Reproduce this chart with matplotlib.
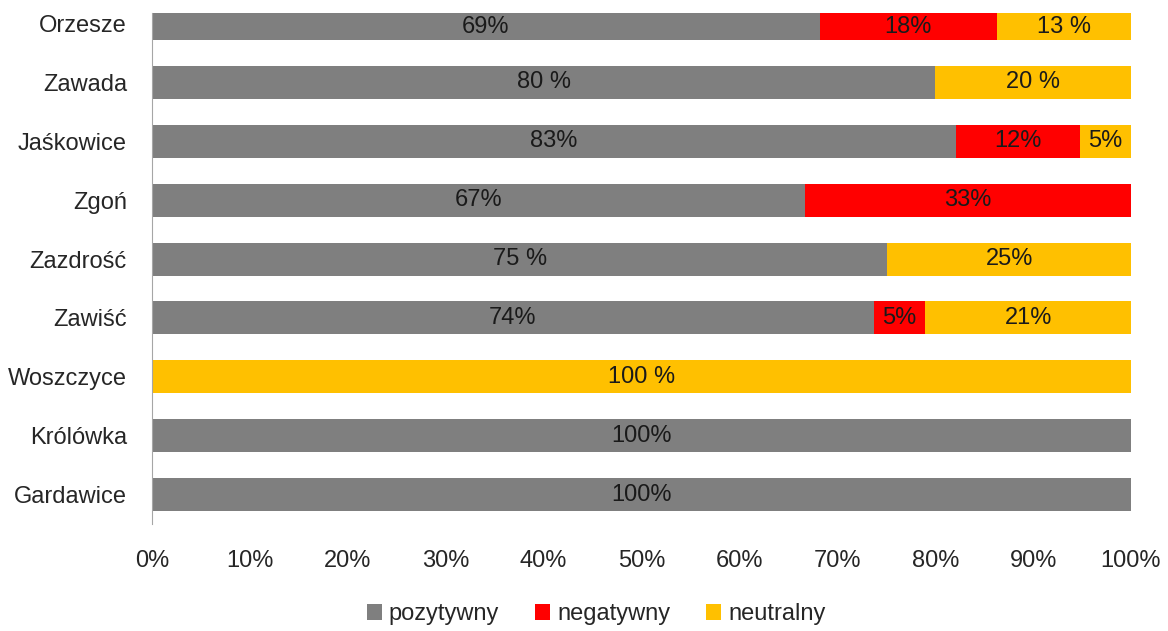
import numpy as np
import matplotlib.pyplot as plt
from matplotlib.ticker import PercentFormatter

plt.rcParams['font.family'] = ['Liberation Sans', 'DejaVu Sans']

# data (shares, Gardawice first = bottom)
places = ['Gardawice', 'Królówka', 'Woszczyce', 'Zawiść', 'Zazdrość',
          'Zgoń', 'Jaśkowice', 'Zawada', 'Orzesze']
pozytywny = [100, 100, 0, 73.7, 75.1, 66.7, 82.1, 80.0, 68.2]
negatywny = [0, 0, 0, 5.3, 0, 33.3, 12.7, 0, 18.1]
neutralny = [0, 0, 100, 21.0, 24.9, 0, 5.2, 20.0, 13.7]
# labels as printed on the bars
lab_poz = ['100%', '100%', '', '74%', '75 %', '67%', '83%', '80 %', '69%']
lab_neg = ['', '', '', '5%', '', '33%', '12%', '', '18%']
lab_neu = ['', '', '100 %', '21%', '25%', '', '5%', '20 %', '13 %']

series = [('pozytywny', pozytywny, lab_poz, '#7f7f7f'),
          ('negatywny', negatywny, lab_neg, '#ff0000'),
          ('neutralny', neutralny, lab_neu, '#ffc000')]

fs = 17

fig = plt.figure(figsize=(11.68, 6.31), dpi=100)
ax = fig.add_axes([152/1168, 1 - 524/631, (1131-152)/1168, (524-13)/631])

y = np.arange(len(places))
left = np.zeros(len(places))
for name, vals, labs, col in series:
    vals = np.array(vals, dtype=float)
    bars = ax.barh(y, vals, left=left, height=0.56, color=col, label=name)
    ax.bar_label(bars, labels=labs, label_type='center', fontsize=fs, color='#1a1a1a')
    left += vals

ax.set_xlim(0, 100)
ax.set_ylim(-0.5, 8.18)
ax.set_yticks(y)
ax.set_yticklabels(places)
ax.set_xticks(np.arange(0, 101, 10))
ax.xaxis.set_major_formatter(PercentFormatter(decimals=0))
ax.tick_params(axis='both', length=0, labelsize=fs, colors='#262626')
ax.tick_params(axis='x', pad=19)
ax.tick_params(axis='y', pad=18)
for s in ['top', 'right', 'bottom']:
    ax.spines[s].set_visible(False)
ax.spines['left'].set_color('#a6a6a6')

fig.legend(loc='center', bbox_to_anchor=(596/1168, 1 - 614/631), ncol=3,
           frameon=False, fontsize=fs, handlelength=0.65, handleheight=0.65,
           handletextpad=0.3, columnspacing=1.5, labelcolor='#262626')

plt.savefig('out.png', dpi=100)
